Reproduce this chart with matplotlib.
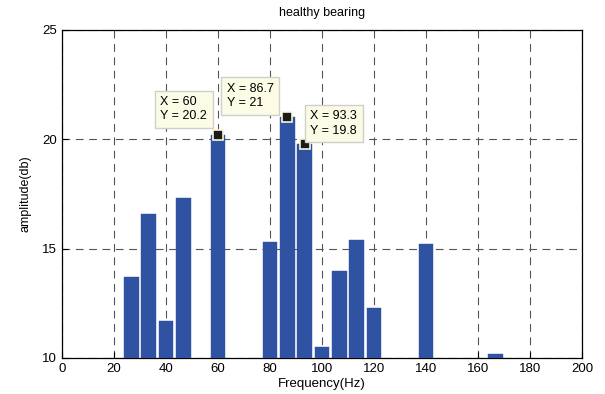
import numpy as np
import matplotlib
matplotlib.use('Agg')
from matplotlib import pyplot as plt

# spectrum bins (Hz) and amplitudes (db)
freq = [26.7, 33.3, 40.0, 46.7, 60.0, 80.0, 86.7, 93.3, 100.0, 106.7, 113.3, 120.0, 140.0, 166.7]
amp = [13.7, 16.6, 11.7, 17.3, 20.2, 15.3, 21.0, 19.8, 10.5, 14.0, 15.4, 12.3, 15.2, 10.2]

# data tips: (x, y, offset in points, alignment)
tips = [
    (60.0, 20.2, (-8, 9), 'right'),
    (86.7, 21.0, (-10, 6), 'right'),
    (93.3, 19.8, (4, 5), 'left'),
]


def main():
    plt.rcParams['font.family'] = ['Liberation Sans', 'DejaVu Sans']
    fig = plt.figure(figsize=(6.05, 3.94), dpi=100)
    ax = fig.add_axes([0.1025, 0.0914, 0.8595, 0.8325])

    ax.bar(freq, np.array(amp) - 10, bottom=10, width=5.6,
           color='#2f52a2', edgecolor='#2f52a2', linewidth=0.3, zorder=3)

    ax.set_xlim(0, 200)
    ax.set_ylim(10, 25)
    ax.set_xticks(np.arange(0, 201, 20))
    ax.set_yticks([10, 15, 20, 25])
    ax.grid(True, color='#555555', linestyle=(0, (7, 5)), linewidth=0.8, zorder=1)
    ax.tick_params(direction='in', length=4, labelsize=9.5, colors='black')
    for s in ax.spines.values():
        s.set_linewidth(0.9)

    ax.set_title('healthy bearing', fontsize=9, pad=10)
    ax.set_xlabel('Frequency(Hz)', fontsize=9.5, labelpad=2)
    ax.set_ylabel('amplitude(db)', fontsize=9, labelpad=8)

    for x, y, off, ha in tips:
        ax.plot(x, y, marker='s', markersize=7.5, color='#1a1a1a',
                markeredgecolor='#f8f8d8', markeredgewidth=1.2, zorder=5)
        ax.annotate('X = %g\nY = %g' % (x, y), xy=(x, y), xytext=off,
                    textcoords='offset points', ha=ha, va='bottom',
                    multialignment='left',
                    fontsize=9, linespacing=1.25, zorder=6,
                    bbox=dict(boxstyle='square,pad=0.45', fc='#fbfbe6',
                              ec='#d0d0c8', lw=1))

    fig.savefig('out.png', dpi=100)


if __name__ == "__main__":
    main()
